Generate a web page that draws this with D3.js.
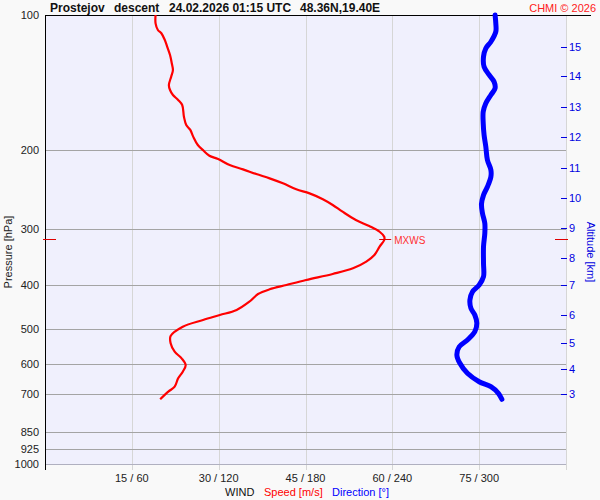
<!DOCTYPE html>
<html>
<head>
<meta charset="utf-8">
<script src="https://cdn.jsdelivr.net/npm/d3@7"></script>
<style>
  body { margin: 0; background: #f9f9f9; }
  svg { display: block; font-family: Arial, "Liberation Sans", sans-serif; }
</style>
</head>
<body>
<svg id="drawing_region"></svg>
<script>
// wind speed profile (m/s) vs pressure (hPa)
const speedPressure = [100, 104.4, 108.0, 109.8, 113.7, 117.6, 122.8, 128.1, 132.6, 137.2, 143.2, 146.9, 150.7, 154.6, 158.7, 168.5, 175.8, 180.3, 186.6, 194.8, 200, 205.8, 209.3, 215.9, 220.7, 226.1, 231.1, 237.1, 244.5, 249.6, 257.2, 264.9, 274.2, 286.1, 295.1, 303.9, 311.8, 317.0, 328.1, 342.4, 354.3, 366.6, 377.4, 389.3, 399.4, 408.3, 418.3, 435.1, 453.9, 465.8, 477.9, 494.5, 518.7, 538.5, 562.2, 581.6, 601.9, 622.9, 644.4, 672.7, 690.2, 717.7];
const speedValues = [19.1, 19.1, 19.5, 20.1, 20.7, 21.1, 21.6, 21.9, 22.1, 21.8, 21.4, 21.6, 22.1, 23.0, 23.7, 24.0, 24.4, 25.1, 25.6, 26.4, 27.3, 28.4, 29.9, 31.9, 34.2, 36.5, 38.8, 41.1, 43.4, 45.7, 48.0, 49.7, 51.4, 53.7, 56.0, 57.8, 58.6, 58.6, 57.8, 56.9, 55.5, 53.2, 49.7, 45.1, 41.7, 38.8, 36.8, 35.3, 33.1, 30.2, 27.3, 23.8, 21.7, 21.7, 22.4, 23.6, 24.3, 23.8, 23.0, 22.4, 21.3, 19.9];

// wind direction profile (deg) vs pressure (hPa)
const dirPressure = [100, 104.4, 108.9, 114.7, 118.6, 123.8, 130.4, 136.0, 140.8, 145.6, 150.7, 157.3, 164.2, 174.3, 185.1, 196.5, 210.4, 221.4, 229.2, 241.3, 251.8, 263.6, 276.5, 291.0, 306.3, 328.1, 357.3, 382.7, 399.4, 413.4, 431.3, 450.0, 465.8, 486.0, 507.4, 529.5, 548.1, 571.9, 596.7, 628.1, 655.7, 672.7, 695.9, 717.7];
const dirValues = [311.0, 311.5, 311.5, 308.1, 304.6, 303.0, 303.4, 306.9, 310.3, 311.0, 308.1, 304.6, 302.8, 302.8, 303.4, 304.6, 305.7, 308.1, 308.1, 305.7, 303.0, 301.6, 302.3, 303.9, 303.9, 303.0, 303.0, 303.0, 300.0, 295.4, 293.6, 294.3, 297.0, 298.4, 297.0, 291.9, 286.2, 284.6, 286.7, 291.9, 300.0, 308.1, 313.3, 315.7];

// maximum wind
const maxWindPressure = 315;
const maxWindSpeed = 58.6;

// axes
const pressureTicks = [100, 200, 300, 400, 500, 600, 700, 850, 925, 1000];
const speedTicks = [15, 30, 45, 60, 75, 90];
const windTickLabels = ['15 / 60', '30 / 120', '45 / 180', '60 / 240', '75 / 300', ''];
const altitudeKm = [3, 4, 5, 6, 7, 8, 9, 10, 11, 12, 13, 14, 15];
const altitudePressure = [699.5, 614.3, 538.6, 465.9, 399.9, 347.1, 298.7, 255.6, 219.5, 186.6, 160.6, 136.9, 117.6];

const config = {
    width: 600,
    height: 500,
    margin: {top: 15, right: 34, bottom: 36, left: 45},
};

const svg = d3.select('#drawing_region')
    .attr('width', config.width)
    .attr('height', config.height);

const plotLeft = config.margin.left;
const plotRight = config.width - config.margin.right;
const plotTop = config.margin.top;
const plotBottom = config.height - config.margin.bottom;

const xSpeed = d3.scaleLinear().domain([0, 90]).range([plotLeft, plotRight]);
const xDir = d3.scaleLinear().domain([0, 360]).range([plotLeft, plotRight]);
const y = d3.scaleLog().domain([100, 1000]).range([plotTop, plotBottom]);

svg.append('rect')
    .attr('width', config.width).attr('height', config.height)
    .attr('fill', '#f9f9f9');

svg.append('rect')
    .attr('x', plotLeft).attr('y', plotTop)
    .attr('width', plotRight - plotLeft).attr('height', plotBottom - plotTop)
    .attr('fill', '#f0f0fd');

// vertical grid + ticks below
svg.append('g').selectAll('line')
    .data(speedTicks)
    .join('line')
    .attr('x1', d => Math.round(xSpeed(d)) + 0.5)
    .attr('x2', d => Math.round(xSpeed(d)) + 0.5)
    .attr('y1', plotTop).attr('y2', plotBottom + 6)
    .attr('stroke', '#d6d6d6');

svg.append('g').selectAll('text')
    .data(speedTicks)
    .join('text')
    .attr('x', d => xSpeed(d))
    .attr('y', plotBottom + 18)
    .attr('text-anchor', 'middle')
    .style('font-size', '11px')
    .attr('fill', '#222')
    .text((d, i) => windTickLabels[i]);

// horizontal grid
svg.append('g').selectAll('line')
    .data(pressureTicks.filter(p => p > 100 && p < 1000))
    .join('line')
    .attr('x1', plotLeft).attr('x2', plotRight)
    .attr('y1', d => Math.round(y(d)) + 0.5)
    .attr('y2', d => Math.round(y(d)) + 0.5)
    .attr('stroke', '#a4a4a4');

svg.append('line')
    .attr('x1', plotLeft).attr('x2', plotRight)
    .attr('y1', plotBottom + 0.5).attr('y2', plotBottom + 0.5)
    .attr('stroke', '#b0b0c0');

svg.append('g').selectAll('text')
    .data(pressureTicks)
    .join('text')
    .attr('x', plotLeft - 6)
    .attr('y', d => y(d) + 4)
    .attr('text-anchor', 'end')
    .style('font-size', '11px')
    .attr('fill', '#222')
    .text(d => d);

// frame lines
svg.append('line')
    .attr('x1', plotLeft + 0.5).attr('x2', plotLeft + 0.5)
    .attr('y1', plotTop).attr('y2', plotBottom + 6)
    .attr('stroke', 'black');
svg.append('line')
    .attr('x1', plotLeft).attr('x2', 591)
    .attr('y1', plotTop + 0.5).attr('y2', plotTop + 0.5)
    .attr('stroke', 'black');

// altitude axis
svg.append('g').selectAll('line')
    .data(altitudeKm)
    .join('line')
    .attr('x1', plotRight - 5).attr('x2', plotRight + 1)
    .attr('y1', (d, i) => Math.round(y(altitudePressure[i])) + 0.5)
    .attr('y2', (d, i) => Math.round(y(altitudePressure[i])) + 0.5)
    .attr('stroke', '#0000e0');
svg.append('g').selectAll('text')
    .data(altitudeKm)
    .join('text')
    .attr('x', plotRight + 3)
    .attr('y', (d, i) => y(altitudePressure[i]) + 4)
    .style('font-size', '11px')
    .attr('fill', '#0000e0')
    .text(d => d);

// max wind markers
const yMax = Math.round(y(maxWindPressure)) + 0.5;
svg.append('line')
    .attr('x1', plotLeft - 2).attr('x2', plotLeft + 11)
    .attr('y1', yMax).attr('y2', yMax)
    .attr('stroke', '#e00000');
svg.append('line')
    .attr('x1', plotRight - 11).attr('x2', plotRight + 2)
    .attr('y1', yMax).attr('y2', yMax)
    .attr('stroke', '#e00000');

// profiles
const speedLine = d3.line()
    .x((d, i) => xSpeed(speedValues[i]))
    .y(d => y(d))
    .curve(d3.curveCatmullRom);
svg.append('path')
    .datum(speedPressure)
    .attr('d', speedLine)
    .attr('fill', 'none')
    .attr('stroke', '#ff0000')
    .attr('stroke-width', 2.2)
    .attr('stroke-linejoin', 'round');

const dirLine = d3.line()
    .x((d, i) => xDir(dirValues[i]))
    .y(d => y(d))
    .curve(d3.curveCatmullRom);
svg.append('path')
    .datum(dirPressure)
    .attr('d', dirLine)
    .attr('fill', 'none')
    .attr('stroke', '#0000ff')
    .attr('stroke-width', 5)
    .attr('stroke-linejoin', 'round')
    .attr('stroke-linecap', 'round');

svg.append('line')
    .attr('x1', xSpeed(maxWindSpeed) - 5).attr('x2', xSpeed(maxWindSpeed) + 7)
    .attr('y1', yMax).attr('y2', yMax)
    .attr('stroke', '#e00000');
svg.append('text')
    .attr('x', xSpeed(maxWindSpeed) + 10)
    .attr('y', yMax + 4)
    .style('font-size', '10px')
    .attr('fill', '#ff3030')
    .text('MXWS');

// titles
const title = svg.append('text')
    .attr('y', 12)
    .style('font-size', '12px')
    .style('font-weight', 'bold')
    .attr('fill', '#111');
title.append('tspan').attr('x', 50).text('Prostejov');
title.append('tspan').attr('x', 114).text('descent');
title.append('tspan').attr('x', 169).text('24.02.2026 01:15 UTC');
title.append('tspan').attr('x', 300).text('48.36N,19.40E');

svg.append('text')
    .attr('x', 596).attr('y', 12)
    .attr('text-anchor', 'end')
    .style('font-size', '11px')
    .attr('fill', '#ff2020')
    .text('CHMI © 2026');

svg.append('text')
    .attr('transform', `translate(12, 252) rotate(-90)`)
    .attr('text-anchor', 'middle')
    .style('font-size', '11px')
    .attr('fill', '#222')
    .text('Pressure [hPa]');

svg.append('text')
    .attr('transform', `translate(587, 252) rotate(90)`)
    .attr('text-anchor', 'middle')
    .style('font-size', '11px')
    .attr('fill', '#0000e0')
    .text('Altitude [km]');

const legend = svg.append('text')
    .attr('y', 496)
    .style('font-size', '11px');
legend.append('tspan').attr('x', 225).attr('fill', '#111').text('WIND');
legend.append('tspan').attr('x', 264).attr('fill', '#ff0000').text('Speed [m/s]');
legend.append('tspan').attr('x', 332).attr('fill', '#0000ff').text('Direction [°]');
</script>
</body>
</html>
